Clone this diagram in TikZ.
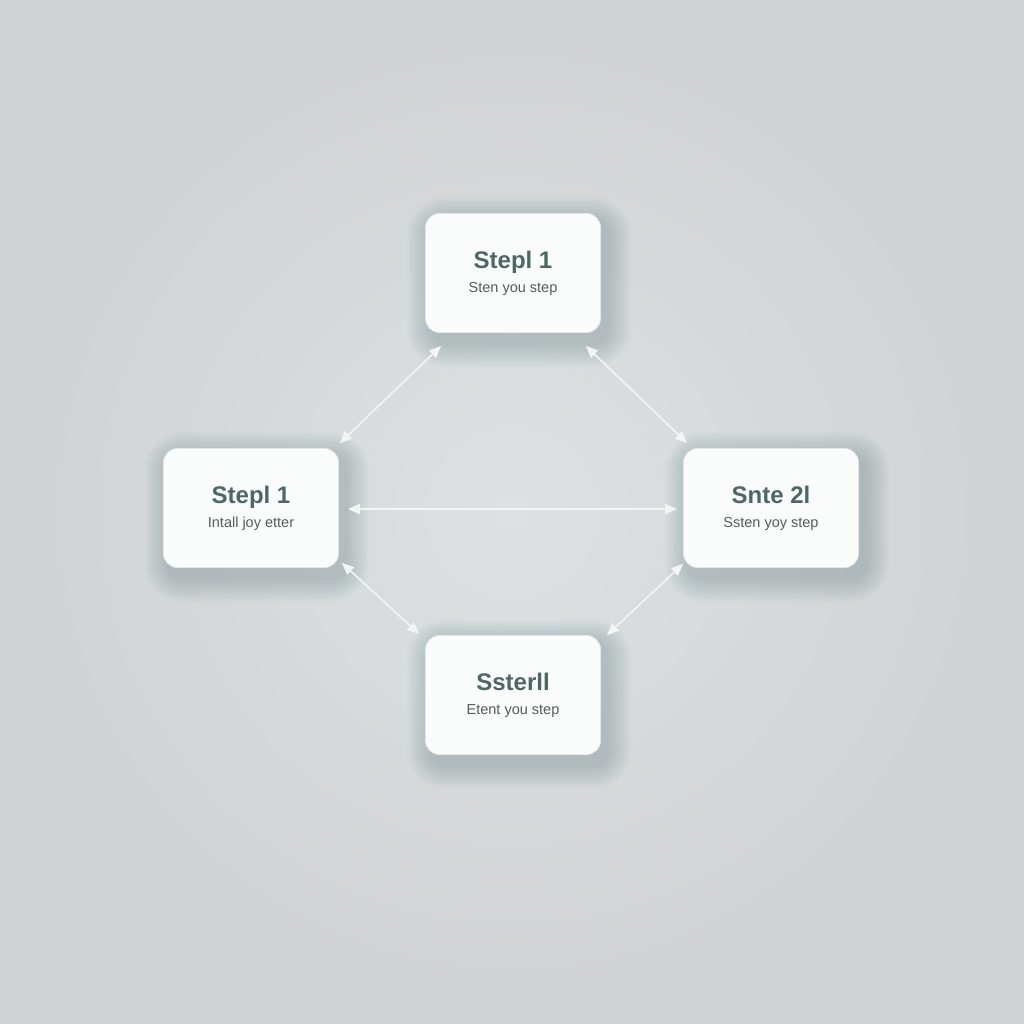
\documentclass[tikz,border=0pt]{standalone}
\usepackage{fontspec}
\setmainfont{Liberation Sans}
\usetikzlibrary{arrows.meta}
\definecolor{bgin}{HTML}{DDE1E2}
\definecolor{bgout}{HTML}{D0D2D4}
\definecolor{boxfill}{HTML}{FAFBFB}
\definecolor{boxline}{HTML}{E4E7E7}
\definecolor{shadowcol}{HTML}{7F979C}
\definecolor{titlecol}{HTML}{4D6666}
\definecolor{subcol}{HTML}{555B5C}
\definecolor{linkcol}{HTML}{F3F5F5}

\begin{document}
\begin{tikzpicture}[x=1pt, y=-1pt,
  stepbox/.style={draw=boxline, line width=0.8pt, fill=boxfill, rounded corners=14pt,
    minimum width=175pt, minimum height=119pt, align=center,
    font=\fontsize{14.5}{24}\selectfont, text=subcol},
  link/.style={draw=linkcol, line width=1.6pt,
    {Triangle[length=12pt,width=10pt]}-{Triangle[length=12pt,width=10pt]}}]

  \useasboundingbox (0,0) rectangle (1024,1024);
  \shade[inner color=bgin, outer color=bgout] (0,0) rectangle (1024,1024);

  % soft shadows under the boxes
  \foreach \x/\y in {513/273, 251/508, 771/508, 513/695} {
    \foreach \k in {1,...,16} {
      \fill[shadowcol, opacity=0.026, rounded corners={14pt+1.5pt*\k}]
        ({\x-82-1.5*\k},{\y-52-1.5*\k}) rectangle ({\x+94+1.5*\k},{\y+70+1.5*\k});
    }
  }

  \node[stepbox] (stepN) at (513,273) {{\fontsize{24}{24}\selectfont\bfseries\color{titlecol}Stepl 1}\\Sten you step};
  \node[stepbox] (stepW) at (251,508) {{\fontsize{24}{24}\selectfont\bfseries\color{titlecol}Stepl 1}\\Intall joy etter};
  \node[stepbox] (stepE) at (771,508) {{\fontsize{24}{24}\selectfont\bfseries\color{titlecol}Snte 2l}\\Ssten yoy step};
  \node[stepbox] (stepS) at (513,695) {{\fontsize{24}{24}\selectfont\bfseries\color{titlecol}Ssterll}\\Etent you step};

  \draw[link] ([shift={(16,13)}]stepN.south west) -- ([shift={(1,-5)}]stepW.north east);
  \draw[link] ([shift={(-15,13)}]stepN.south east) -- ([shift={(4,-5)}]stepE.north west);
  \draw[link] ([shift={(9,1)}]stepW.east) -- ([shift={(-6,1)}]stepE.west);
  \draw[link] ([shift={(3,-5)}]stepW.south east) -- ([shift={(-6,-1)}]stepS.north west);
  \draw[link] ([shift={(0,-4)}]stepE.south west) -- ([shift={(6,0)}]stepS.north east);
\end{tikzpicture}
\end{document}
